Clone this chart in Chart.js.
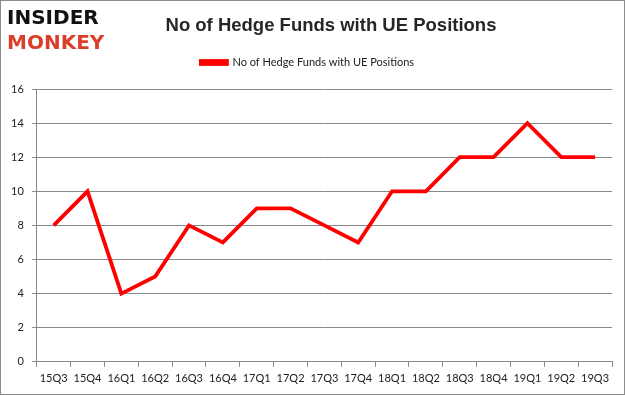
<!DOCTYPE html>
<html>
<head>
<meta charset="utf-8">
<script src="https://cdn.jsdelivr.net/npm/chart.js@4"></script>
<style>
  html, body { margin: 0; padding: 0; background: #fff; }
  #wrap { position: relative; width: 623px; height: 393px; border: 1px solid #8c8c8c; }
  #logo { position: absolute; left: 6px; top: 4px; font-family: "DejaVu Sans", sans-serif; font-weight: bold; line-height: 25px; letter-spacing: 0px; }
  #logo .a { color: #111; font-size: 20px; }
  #logo .b { color: #d9402b; font-size: 20px; }
  #title { position: absolute; left: 0; width: 660px; top: 13px; text-align: center; font-family: "Liberation Sans", Arial, sans-serif; font-weight: bold; font-size: 18.5px; color: #262626; }
</style>
</head>
<body>
<div id="wrap">
  <canvas id="myChart" width="623" height="393"></canvas>
  <div id="logo"><div class="a">INSIDER</div><div class="b">MONKEY</div></div>
  <div id="title"></div>
</div>
<script>
// Données du graphique
const quarters = ['15Q3', '15Q4', '16Q1', '16Q2', '16Q3', '16Q4', '17Q1', '17Q2', '17Q3',
                  '17Q4', '18Q1', '18Q2', '18Q3', '18Q4', '19Q1', '19Q2', '19Q3'];
const fundCounts = [8, 10, 4, 5, 8, 7, 9, 9, 8, 7, 10, 10, 12, 12, 14, 12, 12];
const seriesName = 'No of Hedge Funds with UE Positions';
const chartTitle = 'No of Hedge Funds with UE Positions';

document.getElementById('title').textContent = chartTitle;

const tickFont = { family: 'Lato, "Open Sans", sans-serif', size: 11 };

// Espace supplémentaire sous la légende
const legendGap = {
    id: 'legendGap',
    beforeInit(chart) {
        const fit = chart.legend.fit;
        chart.legend.fit = function () {
            fit.bind(chart.legend)();
            this.height += 11;
        };
    }
};

const ctx = document.getElementById('myChart').getContext('2d');
new Chart(ctx, {
    type: 'line',
    data: {
        labels: quarters,
        datasets: [{
            label: seriesName,
            data: fundCounts,
            borderColor: '#ff0000',
            backgroundColor: '#ff0000',
            borderWidth: 3.8,
            pointRadius: 0,
            tension: 0
        }]
    },
    options: {
        responsive: false,
        animation: false,
        layout: { padding: { left: 2, right: 12, top: 46, bottom: 4 } },
        plugins: {
            title: { display: false },
            legend: {
                position: 'top',
                labels: {
                    boxWidth: 26,
                    boxHeight: 3,
                    color: '#222',
                    font: { family: 'Lato, "Open Sans", sans-serif', size: 11 },
                    padding: 10
                }
            },
            tooltip: { enabled: false }
        },
        scales: {
            x: {
                offset: true,
                grid: { display: true, drawOnChartArea: false, drawTicks: true, tickLength: 5, color: '#888', offset: true },
                border: { color: '#888' },
                ticks: { color: '#222', font: tickFont, maxRotation: 0, autoSkip: false, padding: 5 }
            },
            y: {
                min: 0,
                max: 16,
                ticks: { stepSize: 2, color: '#222', font: tickFont, padding: 8 },
                grid: { color: '#888', tickLength: 5 },
                border: { color: '#888' }
            }
        }
    },
    plugins: [legendGap]
});
</script>
</body>
</html>
